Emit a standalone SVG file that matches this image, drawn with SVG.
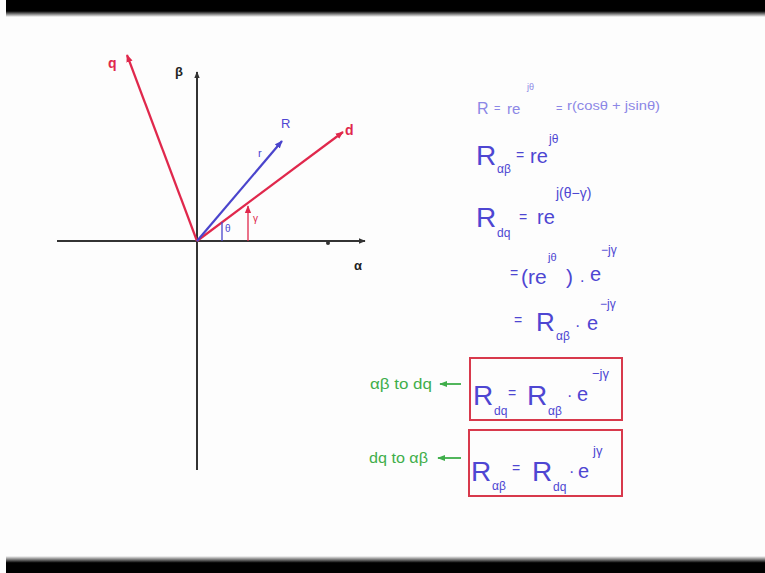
<svg xmlns="http://www.w3.org/2000/svg" width="765" height="573" viewBox="0 0 765 573">
<defs>
<linearGradient id="gTop" x1="0" y1="0" x2="0" y2="1">
<stop offset="0" stop-color="#000"/><stop offset="0.65" stop-color="#000"/><stop offset="1" stop-color="#fdfdfd"/>
</linearGradient>
<linearGradient id="gBot" x1="0" y1="0" x2="0" y2="1">
<stop offset="0" stop-color="#fdfdfd"/><stop offset="0.4" stop-color="#000"/><stop offset="1" stop-color="#000"/>
</linearGradient>
<marker id="ak" viewBox="0 0 10 10" refX="9" refY="5" markerWidth="7" markerHeight="7" orient="auto" markerUnits="userSpaceOnUse">
<path d="M0,1 L10,5 L0,9 z" fill="#333"/>
</marker>
<marker id="ar" viewBox="0 0 10 10" refX="9" refY="5" markerWidth="8" markerHeight="8" orient="auto" markerUnits="userSpaceOnUse">
<path d="M0,1 L10,5 L0,9 z" fill="#e0284c"/>
</marker>
<marker id="ab" viewBox="0 0 10 10" refX="9" refY="5" markerWidth="8" markerHeight="8" orient="auto" markerUnits="userSpaceOnUse">
<path d="M0,1 L10,5 L0,9 z" fill="#4a44cc"/>
</marker>
<marker id="ag" viewBox="0 0 10 10" refX="9" refY="5" markerWidth="8" markerHeight="8" orient="auto" markerUnits="userSpaceOnUse">
<path d="M0,1 L10,5 L0,9 z" fill="#3fae4a"/>
</marker>
</defs>
<style>
text{font-family:"Liberation Sans","DejaVu Sans",sans-serif;}
.ax{stroke:#333;stroke-width:2;fill:none}
.rd{stroke:#e0284c;stroke-width:2.2;fill:none}
.bl{stroke:#4a44cc;stroke-width:2.2;fill:none}
.m{fill:#4e46d2}
.m1{fill:#8c87e6}
.lk{fill:#222}
.lr{fill:#e0284c}
.gr{fill:#3fae4a}
.box{fill:none;stroke:#d8394c;stroke-width:2}
</style>
<rect x="0" y="0" width="765" height="573" fill="#fdfdfd"/>
<rect x="6" y="0" width="759" height="17" fill="url(#gTop)"/>
<rect x="6" y="556" width="759" height="17" fill="url(#gBot)"/>

<g id="axes">
<line class="ax" x1="57" y1="241" x2="365" y2="241" marker-end="url(#ak)"/>
<line class="ax" x1="197" y1="470" x2="197" y2="72" marker-end="url(#ak)"/>
<circle cx="328" cy="243" r="2" fill="#333"/>
<text class="lk" x="175" y="76" font-size="13" font-weight="bold">β</text>
<text class="lk" x="354" y="270" font-size="13" font-weight="bold">α</text>
</g>

<g id="vectors">
<line class="rd" x1="197" y1="241" x2="127" y2="55" marker-end="url(#ar)"/>
<line class="rd" x1="197" y1="241" x2="343" y2="132" marker-end="url(#ar)"/>
<line class="bl" x1="197" y1="241" x2="282" y2="141" marker-end="url(#ab)"/>
<line x1="222" y1="241" x2="222" y2="222" stroke="#4a44cc" stroke-width="1.3"/>
<line x1="248" y1="241" x2="248" y2="206" stroke="#e0284c" stroke-width="1.3" marker-end="url(#ar)"/>
<text class="lr" x="108" y="68" font-size="14" font-weight="bold">q</text>
<text class="lr" x="345" y="135" font-size="14" font-weight="bold">d</text>
<text class="m" x="281" y="128" font-size="13">R</text>
<text class="m" x="258" y="157" font-size="11">r</text>
<text class="m" x="225" y="232" font-size="10">θ</text>
<text class="lr" x="253" y="222" font-size="10">γ</text>
</g>

<g id="eq1">
<text class="m1" x="477" y="114" font-size="16">R</text>
<text class="m1" x="494" y="112" font-size="11">=</text>
<text class="m1" x="507" y="114" font-size="15">re</text>
<text class="m1" x="527" y="90" font-size="9">jθ</text>
<text class="m1" x="556" y="112" font-size="11">=</text>
<text class="m1" x="567" y="110" font-size="12" textLength="93" lengthAdjust="spacingAndGlyphs">r(cosθ + jsinθ)</text>
</g>

<g id="eq2">
<text class="m" x="476" y="165" font-size="28">R</text>
<text class="m" x="497" y="173" font-size="12">αβ</text>
<text class="m" x="516" y="160" font-size="14">=</text>
<text class="m" x="530" y="163" font-size="20">re</text>
<text class="m" x="549" y="143" font-size="12">jθ</text>
</g>

<g id="eq3">
<text class="m" x="476" y="227" font-size="28">R</text>
<text class="m" x="497" y="237" font-size="12">dq</text>
<text class="m" x="519" y="222" font-size="14">=</text>
<text class="m" x="537" y="224" font-size="20">re</text>
<text class="m" x="556" y="198" font-size="14">j(θ−γ)</text>
</g>

<g id="eq4">
<text class="m" x="510" y="278" font-size="14">=</text>
<text class="m" x="521" y="284" font-size="21">(re</text>
<text class="m" x="548" y="261" font-size="11">jθ</text>
<text class="m" x="566" y="284" font-size="21">)</text>
<text class="m" x="580" y="282" font-size="16">.</text>
<text class="m" x="590" y="281" font-size="20">e</text>
<text class="m" x="601" y="254" font-size="12">−jγ</text>
</g>

<g id="eq5">
<text class="m" x="514" y="325" font-size="14">=</text>
<text class="m" x="536" y="331" font-size="26">R</text>
<text class="m" x="556" y="340" font-size="12">αβ</text>
<text class="m" x="575" y="331" font-size="16">·</text>
<text class="m" x="587" y="330" font-size="20">e</text>
<text class="m" x="600" y="308" font-size="12">−jγ</text>
</g>

<g id="box1">
<rect class="box" x="470" y="358" width="152" height="62"/>
<text class="m" x="473" y="405" font-size="28">R</text>
<text class="m" x="494" y="415" font-size="12">dq</text>
<text class="m" x="508" y="398" font-size="14">=</text>
<text class="m" x="527" y="405" font-size="28">R</text>
<text class="m" x="548" y="415" font-size="12">αβ</text>
<text class="m" x="567" y="401" font-size="16">·</text>
<text class="m" x="577" y="401" font-size="20">e</text>
<text class="m" x="592" y="378" font-size="13">−jγ</text>
</g>

<g id="box2">
<rect class="box" x="469" y="430" width="153" height="66"/>
<text class="m" x="471" y="481" font-size="28">R</text>
<text class="m" x="492" y="490" font-size="12">αβ</text>
<text class="m" x="512" y="473" font-size="14">=</text>
<text class="m" x="532" y="481" font-size="28">R</text>
<text class="m" x="553" y="491" font-size="12">dq</text>
<text class="m" x="569" y="477" font-size="16">·</text>
<text class="m" x="578" y="478" font-size="20">e</text>
<text class="m" x="593" y="455" font-size="13">jγ</text>
</g>

<g id="label1">
<text class="gr" x="370" y="389" font-size="14" textLength="62" lengthAdjust="spacingAndGlyphs">αβ to dq</text>
</g>
<g id="label2">
<text class="gr" x="369" y="463" font-size="14" textLength="59" lengthAdjust="spacingAndGlyphs">dq to αβ</text>
</g>

<g id="connectors">
<line x1="461" y1="384" x2="440" y2="384" stroke="#3fae4a" stroke-width="1.8" marker-end="url(#ag)"/>
<line x1="461" y1="458" x2="438" y2="458" stroke="#3fae4a" stroke-width="1.8" marker-end="url(#ag)"/>
</g>
</svg>
